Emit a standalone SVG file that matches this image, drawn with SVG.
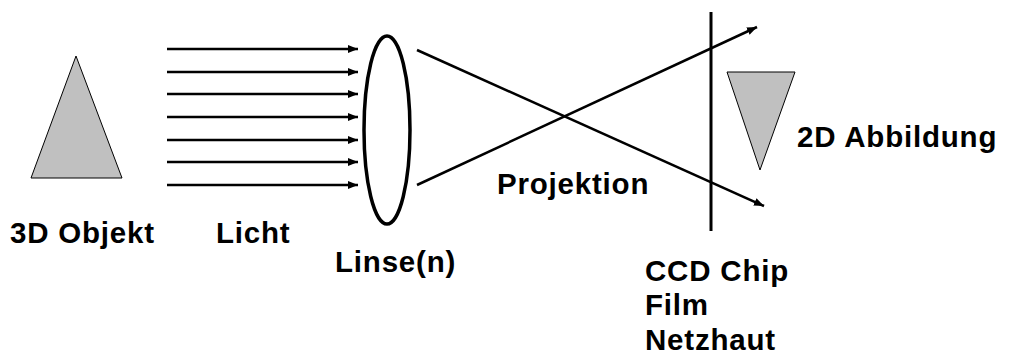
<svg xmlns="http://www.w3.org/2000/svg" width="1009" height="363" viewBox="0 0 1009 363">
<style>
.t{font-family:"Liberation Sans",Arial,sans-serif;font-weight:bold;font-size:29.5px;letter-spacing:0.8px;fill:#000}
.ray{stroke:#000;stroke-width:2.5;fill:none;marker-end:url(#ah)}
.tri{fill:#c0c0c0;stroke:#000;stroke-width:1}
</style>
<defs>
<marker id="ah" markerWidth="12" markerHeight="10" refX="10" refY="4.5" orient="auto" markerUnits="userSpaceOnUse">
<path d="M0,0.5 L10,4.5 L0,8.5 Z" fill="#000"/>
</marker>
</defs>
<rect width="1009" height="363" fill="#fff"/>
<g id="object">
<polygon class="tri" points="76,56 31,178 122,178"/>
<text class="t" x="10" y="243">3D Objekt</text>
</g>
<g id="light-label">
<text class="t" x="216" y="243">Licht</text>
</g>
<g id="lens">
<ellipse cx="387" cy="130" rx="23" ry="94" fill="none" stroke="#000" stroke-width="3.5"/>
<text class="t" x="335" y="272">Linse(n)</text>
</g>
<g id="sensor">
<line x1="711" y1="12" x2="711" y2="231" stroke="#000" stroke-width="3"/>
<text class="t" x="645" y="281">CCD Chip</text>
<text class="t" x="645" y="315">Film</text>
<text class="t" x="645" y="350">Netzhaut</text>
</g>
<g id="image">
<polygon class="tri" points="727,72 795,72 760,170"/>
<text class="t" x="797" y="147">2D Abbildung</text>
</g>
<g id="projection-label">
<text class="t" x="497" y="194">Projektion</text>
</g>
<g id="connectors">
<line class="ray" x1="167" y1="49" x2="358" y2="49"/>
<line class="ray" x1="167" y1="72" x2="358" y2="72"/>
<line class="ray" x1="167" y1="94" x2="358" y2="94"/>
<line class="ray" x1="167" y1="117" x2="358" y2="117"/>
<line class="ray" x1="167" y1="140" x2="358" y2="140"/>
<line class="ray" x1="167" y1="162" x2="358" y2="162"/>
<line class="ray" x1="167" y1="185" x2="358" y2="185"/>
<line class="ray" x1="417" y1="50" x2="764" y2="206"/>
<line class="ray" x1="417" y1="185" x2="757" y2="27"/>
</g>
</svg>
